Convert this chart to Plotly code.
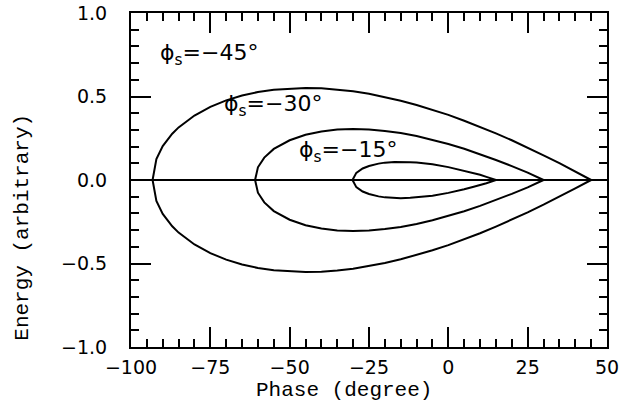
import plotly.graph_objects as go

# Phase (degree) and energy (upper half of separatrix)
phase_45 = [-93.2, -92, -90, -87, -85, -80, -75, -70, -65, -60, -55, -50, -45, -40, -35,
            -30, -25, -20, -15, -10, -5, 0, 5, 10, 15, 20, 25, 30, 35, 40, 45]
energy_45 = [0.0, 0.125, 0.203, 0.277, 0.315, 0.386, 0.438, 0.477, 0.506, 0.527, 0.541,
             0.548, 0.551, 0.549, 0.542, 0.531, 0.516, 0.497, 0.475, 0.449, 0.421, 0.390,
             0.355, 0.319, 0.279, 0.238, 0.194, 0.148, 0.101, 0.050, 0.0]

phase_30 = [-60.9, -60, -58, -55, -50, -45, -40, -35, -30, -25, -20, -15, -10, -5, 0,
            5, 10, 15, 20, 25, 30]
energy_30 = [0.0, 0.076, 0.134, 0.186, 0.238, 0.271, 0.291, 0.302, 0.305, 0.302, 0.294,
             0.281, 0.263, 0.241, 0.216, 0.187, 0.155, 0.120, 0.083, 0.044, 0.0]

phase_15 = [-30.2, -29, -27, -25, -22, -20, -17, -15, -12, -10, -5, 0, 5, 8, 10, 12, 15]
energy_15 = [0.0, 0.043, 0.069, 0.084, 0.098, 0.104, 0.108, 0.109, 0.107, 0.105, 0.094,
             0.077, 0.055, 0.040, 0.031, 0.019, 0.0]

axis_line = [-100, 50]
axis_zero = [0.0, 0.0]

labels = ["ϕ<sub>s</sub>=−45°", "ϕ<sub>s</sub>=−30°", "ϕ<sub>s</sub>=−15°"]
label_x = [-91.5, -71.4, -47.6]
label_y = [0.754, 0.449, 0.171]

x_ticks = [-100, -75, -50, -25, 0, 25, 50]
x_tick_text = ["−100", "−75", "−50", "−25", "0", "25", "50"]
y_ticks = [-1.0, -0.5, 0.0, 0.5, 1.0]
y_tick_text = ["−1.0", "−0.5", "0.0", "0.5", "1.0"]

fig = go.Figure()

line = dict(color="black", width=2)
for px, en in [(phase_45, energy_45), (phase_30, energy_30), (phase_15, energy_15)]:
    xs = list(px) + list(reversed(px))
    ys = list(en) + [-v for v in reversed(en)]
    fig.add_trace(go.Scatter(x=xs, y=ys, mode="lines", line=line,
                             showlegend=False, hoverinfo="skip"))

fig.add_trace(go.Scatter(x=axis_line, y=axis_zero, mode="lines", line=line,
                         showlegend=False, hoverinfo="skip"))

tickfont = dict(family="DejaVu Sans", size=19, color="black")

common = dict(showgrid=False, zeroline=False, automargin=False,
              showline=True, linecolor="black", linewidth=2, mirror="ticks",
              ticks="inside", ticklen=20, tickwidth=2, tickcolor="black",
              tickfont=tickfont)

fig.update_xaxes(range=[-100, 50], tickvals=x_ticks, ticktext=x_tick_text,
                 ticklabelstandoff=2,
                 minor=dict(ticks="inside", ticklen=8, tickwidth=2, dtick=5,
                            tickcolor="black", showgrid=False), **common)
fig.update_yaxes(range=[-1.0, 1.0], tickvals=y_ticks, ticktext=y_tick_text,
                 ticklabelstandoff=18,
                 minor=dict(ticks="inside", ticklen=8, tickwidth=2, dtick=0.1,
                            tickcolor="black", showgrid=False), **common)

for t, x, y in zip(labels, label_x, label_y):
    fig.add_annotation(x=x, y=y, text=t, showarrow=False, xanchor="left",
                       yanchor="middle",
                       font=dict(family="DejaVu Sans", size=22, color="black"))

titlefont = dict(family="Liberation Mono, Courier New, monospace", size=21, color="black")
fig.add_annotation(xref="paper", yref="paper", x=0.4475, y=-0.131, text="Phase (degree)",
                   showarrow=False, xanchor="center", yanchor="middle", font=titlefont)
fig.add_annotation(xref="paper", yref="paper", x=-0.227, y=0.36, text="Energy (arbitrary)",
                   showarrow=False, textangle=-90, xanchor="center", yanchor="middle",
                   font=titlefont)

fig.update_layout(width=633, height=410, margin=dict(l=131, r=26, t=13, b=63),
                  plot_bgcolor="white", paper_bgcolor="white")

fig.write_html("out.html")
